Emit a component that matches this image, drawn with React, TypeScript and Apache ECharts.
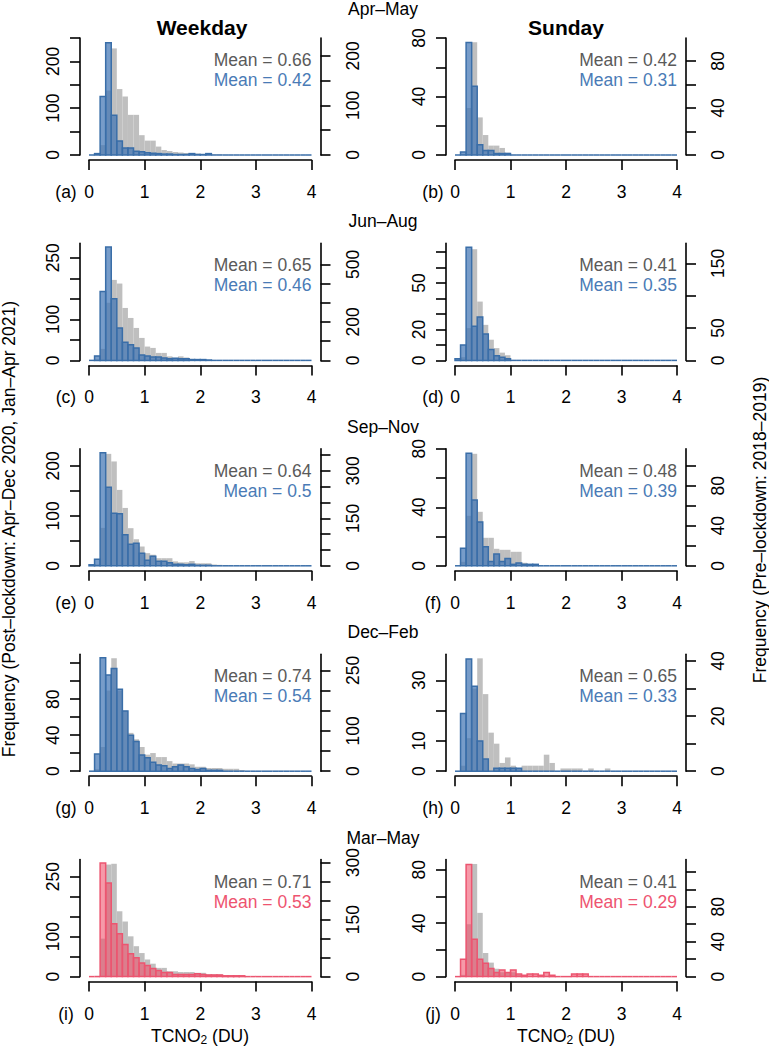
import React, { useEffect, useRef } from "react";
import * as echarts from "echarts";

// ---------------- data ----------------
const SEASONS = ["Apr–May", "Jun–Aug", "Sep–Nov", "Dec–Feb", "Mar–May"];
const DAY_TITLES = ["Weekday", "Sunday"];
const PANEL_LETTERS = ["(a)", "(b)", "(c)", "(d)", "(e)", "(f)", "(g)", "(h)", "(i)", "(j)"];
const PRE_MEANS = ["0.66", "0.42", "0.65", "0.41", "0.64", "0.48", "0.74", "0.65", "0.71", "0.41"];
const POST_MEANS = ["0.42", "0.31", "0.46", "0.35", "0.5", "0.39", "0.54", "0.33", "0.53", "0.29"];
const X_TICKS = [0, 1, 2, 3, 4];
const BIN_WIDTH = 0.1;
const X_MAX = 4;

// histogram counts, bin i = [i*0.1, (i+1)*0.1); bins not listed are 0
const A_POST = [0, 3, 125, 240, 85, 30, 15, 15, 8, 7, 5, 4, 3, 2, 2, 1, 1, 1, 3, 1, 1, 3];
const A_PRE = [0, 2, 20, 130, 215, 133, 118, 81, 81, 40, 29, 29, 17, 10, 8, 6, 5, 4, 3, 3, 2, 2, 1, 1];
const B_POST = [0, 2, 77, 47, 7, 3, 3, 1, 1, 1];
const B_PRE = [0, 1, 40, 96, 32, 17, 8, 8, 6, 2];
const C_POST = [0, 11, 168, 276, 150, 79, 44, 38, 30, 13, 11, 8, 8, 6, 4, 5, 4, 4, 2, 2, 2, 1];
const C_PRE = [0, 5, 60, 300, 419, 400, 273, 221, 169, 117, 72, 65, 39, 39, 21, 13, 21, 15, 8, 5, 4, 2, 1];
const D_POST = [1, 10, 73, 22, 28, 17, 7, 3, 2, 1];
const D_PRE = [0, 5, 50, 172, 91, 55, 32, 19, 12, 8];
const E_POST = [2, 13, 226, 157, 105, 104, 62, 43, 45, 25, 11, 19, 9, 9, 6, 3, 3, 2, 3, 1, 1, 1];
const E_PRE = [0, 5, 120, 354, 330, 240, 183, 119, 84, 61, 40, 35, 24, 24, 24, 14, 11, 11, 15, 8, 8, 8, 4, 3, 2];
const F_POST = [0, 12, 77, 45, 30, 13, 3, 8, 3, 5, 1, 2, 1, 1, 1];
const F_PRE = [0, 4, 50, 112, 54, 28, 28, 17, 16, 16, 14, 14, 3, 1];
const G_POST = [0, 19, 126, 107, 114, 91, 67, 40, 33, 18, 15, 10, 7, 6, 3, 5, 7, 5, 3, 2, 3, 1, 1, 1];
const G_PRE = [0, 5, 60, 200, 280, 200, 150, 95, 79, 60, 41, 45, 35, 35, 25, 19, 19, 19, 17, 11, 11, 8, 8, 8, 6, 6, 6, 3];
const H_POST = [0, 19, 37, 28, 10, 4, 0, 1, 1, 1, 1, 1];
const H_PRE = [0, 2, 12, 30, 41, 28, 14, 10, 3, 5, 2, 1, 2, 2, 2, 2, 6, 3, 0, 1, 1, 1, 1, 0, 1, 0, 0, 1];
const I_POST = [0, 0, 284, 234, 132, 107, 80, 57, 47, 34, 28, 20, 15, 10, 10, 5, 5, 5, 5, 7, 5, 4, 4, 4, 2, 2, 2, 2];
const I_PRE = [0, 2, 100, 295, 297, 172, 145, 106, 80, 62, 45, 34, 23, 23, 14, 14, 12, 12, 12, 10, 10, 6, 6, 6, 3, 3, 3];
const J_POST = [0, 13, 84, 28, 13, 10, 6, 3, 5, 3, 5, 2, 1, 2, 2, 1, 3, 1, 0, 0, 0, 2, 2, 2];
const J_PRE = [0, 2, 60, 129, 73, 27, 16, 9, 5, 5, 5, 2, 1];

const POST_COUNTS = [A_POST, B_POST, C_POST, D_POST, E_POST, F_POST, G_POST, H_POST, I_POST, J_POST];
const PRE_COUNTS = [A_PRE, B_PRE, C_PRE, D_PRE, E_PRE, F_PRE, G_PRE, H_PRE, I_PRE, J_PRE];

// axis ticks / labels (left = post-lockdown, right = pre-lockdown)
const LEFT_TICKS = [
  [0, 50, 100, 150, 200, 250], [0, 20, 40, 60, 80],
  [0, 50, 100, 150, 200, 250], [0, 10, 20, 30, 40, 50, 60, 70],
  [0, 50, 100, 150, 200], [0, 20, 40, 60, 80],
  [0, 20, 40, 60, 80, 100, 120], [0, 10, 20, 30],
  [0, 50, 100, 150, 200, 250], [0, 20, 40, 60, 80],
];
const LEFT_LABELS = [
  [0, 100, 200], [0, 40, 80],
  [0, 100, 250], [0, 20, 50],
  [0, 100, 200], [0, 40, 80],
  [0, 40, 80], [0, 10, 30],
  [0, 100, 250], [0, 40, 80],
];
const RIGHT_TICKS = [
  [0, 50, 100, 150, 200], [0, 20, 40, 60, 80],
  [0, 100, 200, 300, 400, 500], [0, 50, 100, 150],
  [0, 50, 100, 150, 200, 250, 300, 350], [0, 20, 40, 60, 80, 100],
  [0, 50, 100, 150, 200, 250], [0, 10, 20, 30, 40],
  [0, 50, 100, 150, 200, 250, 300], [0, 20, 40, 60, 80, 100, 120],
];
const RIGHT_LABELS = [
  [0, 100, 200], [0, 40, 80],
  [0, 200, 500], [0, 50, 150],
  [0, 150, 300], [0, 40, 80],
  [0, 100, 250], [0, 20, 40],
  [0, 150, 300], [0, 40, 80],
];
const LEFT_MAX = [250, 80, 285, 75.5, 234, 80, 130, 38.6, 292.5, 87.6];
const RIGHT_MAX = [236, 99.6, 609, 181, 370, 117, 290, 42.5, 308, 134];

// ---------------- layout / style ----------------
const FONT = '"Liberation Sans", Arial, Helvetica, sans-serif';
const FS = 17.5;
const ROW_STEP = 205.4;
const ZERO_Y0 = 155;
const PLOT_H = 117;
const COL_LEFT = [89, 455];
const COL_WIDTH = [222.5, 222];
const BLUE_FILL = "rgba(66,118,180,0.72)";
const BLUE_STROKE = "#3a6ea8";
const BLUE_TEXT = "#4a7bb6";
const RED_FILL = "rgba(240,80,105,0.58)";
const RED_STROKE = "#ec5570";
const RED_TEXT = "#ee5470";
const GRAY_FILL = "#bfbfbf";
const GRAY_TEXT = "#5a5a5a";

function toBins(counts: number[]) {
  const n = Math.round(X_MAX / BIN_WIDTH);
  const out: number[][] = [];
  for (let i = 0; i < n; i++) {
    out.push([Math.round(i) / 10, Math.round(i + 1) / 10, counts[i] ?? 0]);
  }
  return out;
}

function makeRender(fill: string, stroke: string | null, drawZero: boolean) {
  return (params: any, api: any) => {
    const x0 = api.value(0);
    const x1 = api.value(1);
    const v = api.value(2);
    const p0 = api.coord([x0, 0]);
    const p1 = api.coord([x1, v]);
    if (!v) {
      if (!drawZero || !stroke) return null;
      return {
        type: "line",
        shape: { x1: p0[0], y1: p0[1], x2: p1[0], y2: p0[1] },
        style: { stroke, lineWidth: 1.5 },
      };
    }
    return {
      type: "rect",
      shape: { x: p0[0], y: p1[1], width: p1[0] - p0[0], height: p0[1] - p1[1] },
      style: stroke ? { fill, stroke, lineWidth: 1.5 } : { fill },
    };
  };
}

function buildOption() {
  const grid: any[] = [];
  const xAxis: any[] = [];
  const yAxis: any[] = [];
  const series: any[] = [];
  const graphic: any[] = [];
  const axisLineStyle = { color: "#000", width: 1.6 };

  for (let i = 0; i < 10; i++) {
    const row = Math.floor(i / 2);
    const col = i % 2;
    const y0 = ZERO_Y0 + ROW_STEP * row;
    const isRed = row === 4;
    grid.push({
      left: COL_LEFT[col],
      top: y0 - PLOT_H,
      width: COL_WIDTH[col],
      height: PLOT_H,
      containLabel: false,
      outerBoundsMode: "none",
    });
    xAxis.push({
      type: "value",
      gridIndex: i,
      min: 0,
      max: X_MAX,
      interval: 1,
      position: "bottom",
      offset: 5,
      axisLine: { show: true, onZero: false, lineStyle: axisLineStyle },
      axisTick: { show: true, length: 10, inside: false, lineStyle: axisLineStyle, customValues: X_TICKS },
      axisLabel: { show: true, margin: 23, fontSize: FS, fontFamily: FONT, color: "#000", customValues: X_TICKS },
      splitLine: { show: false },
    });
    yAxis.push({
      type: "value",
      gridIndex: i,
      position: "left",
      offset: 9,
      min: 0,
      max: LEFT_MAX[i],
      axisLine: { show: true, onZero: false, lineStyle: axisLineStyle },
      axisTick: { show: true, length: 10, lineStyle: axisLineStyle, customValues: LEFT_TICKS[i] },
      axisLabel: {
        show: true, rotate: 90, margin: 18, fontSize: FS, fontFamily: FONT, color: "#000",
        customValues: LEFT_LABELS[i],
      },
      splitLine: { show: false },
    });
    yAxis.push({
      type: "value",
      gridIndex: i,
      position: "right",
      offset: 9,
      min: 0,
      max: RIGHT_MAX[i],
      axisLine: { show: true, onZero: false, lineStyle: axisLineStyle },
      axisTick: { show: true, length: 10, lineStyle: axisLineStyle, customValues: RIGHT_TICKS[i] },
      axisLabel: {
        show: true, rotate: 90, margin: 23, fontSize: FS, fontFamily: FONT, color: "#000",
        customValues: RIGHT_LABELS[i],
      },
      splitLine: { show: false },
    });
    series.push({
      type: "custom",
      name: "pre " + PANEL_LETTERS[i],
      xAxisIndex: i,
      yAxisIndex: 2 * i + 1,
      data: toBins(PRE_COUNTS[i]),
      encode: { x: [0, 1], y: 2 },
      renderItem: makeRender(GRAY_FILL, null, false),
      silent: true,
      clip: false,
    });
    series.push({
      type: "custom",
      name: "post " + PANEL_LETTERS[i],
      xAxisIndex: i,
      yAxisIndex: 2 * i,
      data: toBins(POST_COUNTS[i]),
      encode: { x: [0, 1], y: 2 },
      renderItem: makeRender(isRed ? RED_FILL : BLUE_FILL, isRed ? RED_STROKE : BLUE_STROKE, true),
      silent: true,
      clip: false,
    });

    const rightEdge = COL_LEFT[col] + COL_WIDTH[col];
    graphic.push({
      type: "text", silent: true, x: rightEdge, y: 60 + ROW_STEP * row,
      style: { text: "Mean = " + PRE_MEANS[i], align: "right", verticalAlign: "middle", fontSize: FS, fontFamily: FONT, fill: GRAY_TEXT },
    });
    graphic.push({
      type: "text", silent: true, x: rightEdge, y: 80 + ROW_STEP * row,
      style: { text: "Mean = " + POST_MEANS[i], align: "right", verticalAlign: "middle", fontSize: FS, fontFamily: FONT, fill: isRed ? RED_TEXT : BLUE_TEXT },
    });
    graphic.push({
      type: "text", silent: true, x: col === 0 ? 66 : 433, y: y0 + 37,
      style: { text: PANEL_LETTERS[i], align: "center", verticalAlign: "middle", fontSize: FS, fontFamily: FONT, fill: "#000" },
    });
  }

  SEASONS.forEach((s, r) => {
    graphic.push({
      type: "text", silent: true, x: 383, y: r === 0 ? 9 : 16 + ROW_STEP * r,
      style: { text: s, align: "center", verticalAlign: "middle", fontSize: FS, fontFamily: FONT, fill: "#000" },
    });
  });
  DAY_TITLES.forEach((t, c) => {
    graphic.push({
      type: "text", silent: true, x: c === 0 ? 202 : 566, y: 27,
      style: { text: t, align: "center", verticalAlign: "middle", fontSize: 21, fontWeight: "bold", fontFamily: FONT, fill: "#000" },
    });
  });
  [200, 566].forEach((cx) => {
    graphic.push({
      type: "text", silent: true, x: cx, y: 1036,
      style: {
        text: "{a|TCNO}{b|2}{a| (DU)}",
        align: "center",
        verticalAlign: "middle",
        fill: "#000",
        rich: {
          a: { fontSize: FS, fontFamily: FONT, lineHeight: 20, verticalAlign: "middle", fill: "#000" },
          b: { fontSize: 12, fontFamily: FONT, lineHeight: 11, verticalAlign: "bottom", fill: "#000" },
        },
      },
    });
  });
  graphic.push({
    type: "text", silent: true, x: 8.5, y: 529, rotation: Math.PI / 2,
    style: {
      text: "Frequency (Post–lockdown: Apr–Dec 2020, Jan–Apr 2021)",
      align: "center", verticalAlign: "middle", fontSize: FS, fontFamily: FONT, fill: "#000",
    },
  });
  graphic.push({
    type: "text", silent: true, x: 760, y: 530, rotation: Math.PI / 2,
    style: {
      text: "Frequency (Pre–lockdown: 2018–2019)",
      align: "center", verticalAlign: "middle", fontSize: FS, fontFamily: FONT, fill: "#000",
    },
  });

  return {
    animation: false,
    backgroundColor: "#ffffff",
    textStyle: { fontFamily: FONT },
    grid,
    xAxis,
    yAxis,
    series,
    graphic,
  };
}

export default function App() {
  const ref = useRef<HTMLDivElement | null>(null);
  useEffect(() => {
    if (!ref.current) return;
    const chart = echarts.init(ref.current, undefined, { renderer: "svg" });
    chart.setOption(buildOption() as any);
    return () => {
      chart.dispose();
    };
  }, []);
  return (
    <div
      ref={ref}
      style={{ position: "fixed", left: 0, top: 0, width: 769, height: 1050, background: "#fff" }}
    />
  );
}
